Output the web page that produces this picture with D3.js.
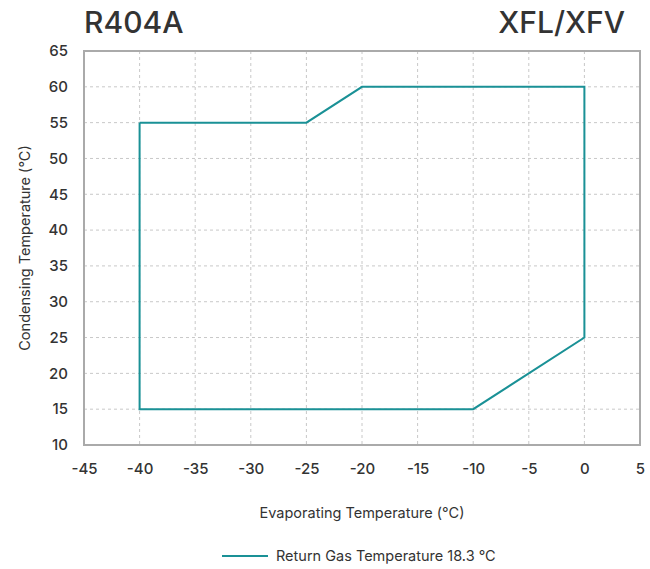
<!DOCTYPE html>
<html><head><meta charset="utf-8">
<script src="https://cdn.jsdelivr.net/npm/d3@7"></script>
<style>body{margin:0;background:#fff;font-family:Inter,"Open Sans",sans-serif;}</style>
</head><body>
<svg id="c" width="650" height="569"></svg>
<script>
const evap = [-40, -25, -20, 0, 0, -10, -40, -40];
const cond = [55, 55, 60, 60, 25, 15, 15, 55];
const xTicks = [-45,-40,-35,-30,-25,-20,-15,-10,-5,0,5];
const yTicks = [10,15,20,25,30,35,40,45,50,55,60,65];
const seriesName = "Return Gas Temperature 18.3 °C";

const svg = d3.select("#c");
const L=84, R=640, T=51, B=445;
const x = d3.scaleLinear().domain([-45,5]).range([L,R]);
const y = d3.scaleLinear().domain([10,65]).range([B,T]);
const txt="#333", gridC="#c8c8c8";

// grid
svg.append("g").selectAll("line").data(xTicks.slice(1,-1)).join("line")
 .attr("x1",d=>x(d)).attr("x2",d=>x(d)).attr("y1",T).attr("y2",B)
 .attr("stroke",gridC).attr("stroke-dasharray","3,3");
svg.append("g").selectAll("line").data(yTicks.slice(1,-1)).join("line")
 .attr("y1",d=>y(d)).attr("y2",d=>y(d)).attr("x1",L).attr("x2",R)
 .attr("stroke",gridC).attr("stroke-dasharray","3,3");
svg.append("rect").attr("x",L).attr("y",T).attr("width",R-L).attr("height",B-T)
 .attr("fill","none").attr("stroke","#aaa").attr("stroke-width",2);

// axes labels
const xa = svg.append("g").attr("transform",`translate(0,${B})`)
 .call(d3.axisBottom(x).tickValues(xTicks).tickSize(0).tickPadding(18).tickFormat(d=>d<0?"-"+Math.abs(d):d));
const ya = svg.append("g").attr("transform",`translate(${L},0)`)
 .call(d3.axisLeft(y).tickValues(yTicks).tickSize(0).tickPadding(16));
[xa,ya].forEach(g=>{g.select(".domain").remove();
 g.selectAll("text").attr("fill",txt).style("font-size","15px").style("font-family","Inter,sans-serif").style("font-weight","500");});

// line
const pts = evap.map((e,i)=>[e,cond[i]]);
svg.append("path").datum(pts)
 .attr("d",d3.line().x(d=>x(d[0])).y(d=>y(d[1])))
 .attr("fill","none").attr("stroke","#1a9196").attr("stroke-width",2);

// titles
svg.append("text").attr("x",84).attr("y",33).text("R404A")
 .attr("fill",txt).style("font-size","30px").style("font-weight","500");
svg.append("text").attr("x",625).attr("y",33).attr("text-anchor","end").text("XFL/XFV")
 .attr("fill",txt).style("font-size","30px").style("font-weight","500");
svg.append("text").attr("x",362).attr("y",518).attr("text-anchor","middle")
 .text("Evaporating Temperature (°C)").attr("fill",txt).style("font-size","14.5px");
svg.append("text").attr("transform","translate(30,248) rotate(-90)").attr("text-anchor","middle")
 .text("Condensing Temperature (°C)").attr("fill",txt).style("font-size","14.5px");

// legend
svg.append("line").attr("x1",222).attr("x2",268).attr("y1",556).attr("y2",556)
 .attr("stroke","#1a9196").attr("stroke-width",2);
svg.append("text").attr("x",276).attr("y",561).text(seriesName)
 .attr("fill",txt).style("font-size","14.5px");
</script>
</body></html>
